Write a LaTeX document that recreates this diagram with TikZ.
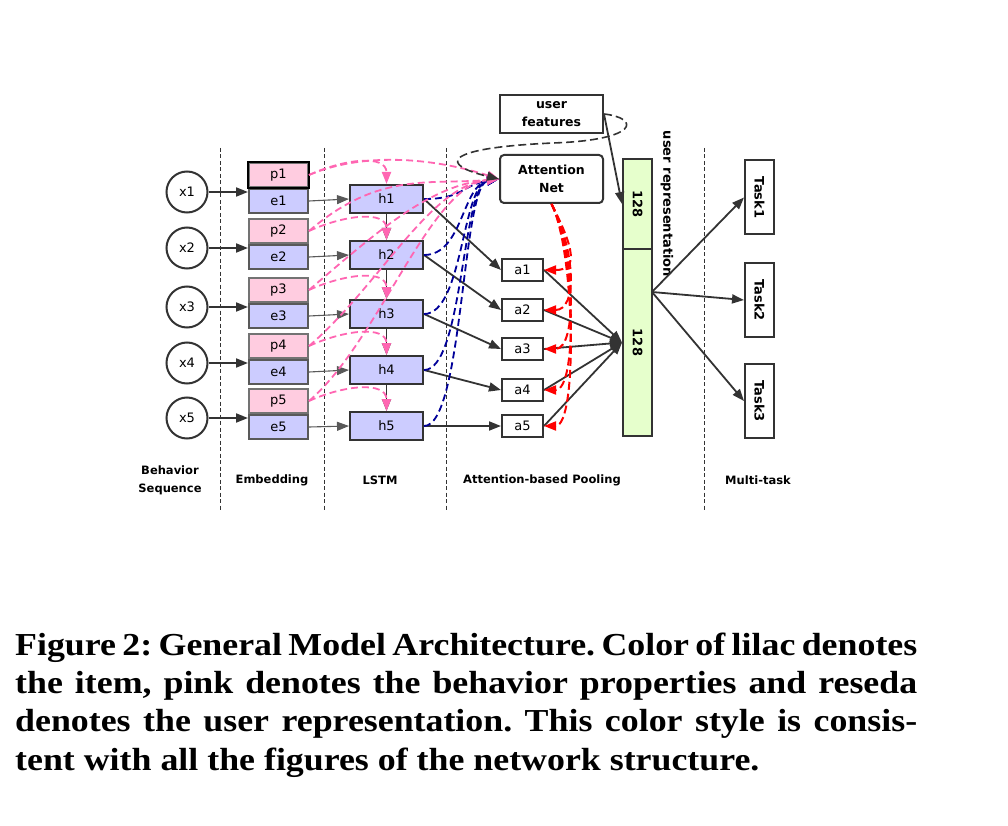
\documentclass[tikz,border=0pt]{standalone}
\usepackage{fontspec}
\setmainfont{Liberation Serif}
\newfontfamily\capfont[FakeStretch=1.12]{Liberation Serif}
\newfontfamily\diagfont{DejaVu Sans}
\usetikzlibrary{arrows.meta,positioning}
\frenchspacing

\definecolor{lilac}{RGB}{204,204,255}
\definecolor{pinkfill}{RGB}{255,204,224}
\definecolor{reseda}{RGB}{230,255,204}
\definecolor{pinkline}{RGB}{255,102,178}
\definecolor{navyline}{RGB}{0,0,153}
\definecolor{dark}{RGB}{51,51,51}

\tikzset{
  tip/.style={-{Triangle[length=12pt,width=9pt]}},
  arrow/.style={tip,draw=dark,line width=1.8pt},
  thinarrow/.style={tip,draw=black!65,line width=1.1pt},
  box/.style={draw=dark,line width=2pt,inner sep=0pt,
    font=\diagfont\fontsize{13}{13}\selectfont},
  circ/.style={box,circle,minimum size=41pt},
  pbox/.style={box,draw=black!55,fill=pinkfill,minimum width=59pt,minimum height=24pt},
  ebox/.style={box,draw=black!65,fill=lilac,minimum width=59pt,minimum height=24pt},
  hbox/.style={box,fill=lilac,minimum width=73pt,minimum height=28pt},
  abox/.style={box,fill=white,minimum width=41pt,minimum height=22pt},
  bigbox/.style={box,fill=white,minimum width=103pt,align=center,
    font=\diagfont\bfseries\fontsize{12.5}{18}\selectfont},
  bar/.style={box,fill=reseda,minimum width=29pt,
    font=\diagfont\bfseries\fontsize{13}{13}\selectfont},
  taskbox/.style={box,fill=white,minimum width=29pt,minimum height=74pt,
    font=\diagfont\bfseries\fontsize{13}{13}\selectfont},
  lab/.style={align=center,font=\diagfont\bfseries\fontsize{11.5}{18}\selectfont},
  sepline/.style={draw=black!80,line width=0.8pt,dash pattern=on 4pt off 2.5pt},
  pinkdash/.style={tip,draw=pinkline,line width=1.8pt,dash pattern=on 7pt off 4pt},
  bluedash/.style={tip,draw=navyline,line width=1.8pt,dash pattern=on 7pt off 4pt},
  reddash/.style={tip,draw=red,line width=2pt,dash pattern=on 8pt off 4pt},
  loopdash/.style={tip,draw=dark,line width=1.6pt,dash pattern=on 8pt off 4pt},
  caption/.style={anchor=base west,inner sep=0pt,font=\capfont\bfseries\fontsize{32}{38}\selectfont}
}

\begin{document}
\begin{tikzpicture}[x=1pt,y=-1pt]
\useasboundingbox (0,0) rectangle (1008,826);

% stage separators
\foreach \sx in {220,324,446,704}
  \draw[sepline] (\sx,148) -- (\sx,510);

% attention and user parts
\node[bigbox,minimum height=38pt] (ufeat) at (551.5,114) {user\\features};
\node[bigbox,rounded corners=4pt,minimum height=48pt] (attn) at (551.5,179) {Attention\\Net};

\node[bar,minimum height=90pt] (upbar) at (637.5,204) {\rotatebox{-90}{128}};
\node[bar,minimum height=187pt] (lowbar) at (637.5,342.5) {\rotatebox{-90}{128}};
\node[lab,rotate=-90,font=\diagfont\bfseries\fontsize{13}{13}\selectfont] (urep) at (667,204) {user representation};

\node[taskbox] (t1) at (759.5,197.5) {\rotatebox{-90}{Task1}};
\node[taskbox] (t2) at (759.5,300) {\rotatebox{-90}{Task2}};
\node[taskbox] (t3) at (759.5,401) {\rotatebox{-90}{Task3}};

% rows of the sequence
\foreach \i/\b/\hy/\ay in {1/187/199/270,2/243/255/310,3/302/314/349,4/358/370/390,5/413/426/426}{
  \node[circ] (x\i) at (187,{\b+5}) {x\i};
  \node[pbox] (p\i) at (278.5,{\b-12}) {p\i};
  \node[ebox,below=0pt of p\i] (e\i) {e\i};
  \node[hbox] (h\i) at (386.5,\hy) {h\i};
  \node[abox] (a\i) at (522.5,\ay) {a\i};
}
\draw[box,draw=black] (p1.south west) rectangle (p1.north east);

\node[lab] (lseq) at (170,480) {Behavior\\Sequence};
\node[lab] (lemb) at (272,480) {Embedding};
\node[lab] (llstm) at (380,480) {LSTM};
\node[lab] (lpool) at (542,480) {Attention-based Pooling};
\node[lab] (ltask) at (758,480) {Multi-task};

% connectors
\foreach \i/\ay in {1/270,2/310,3/349,4/390,5/426}{
  \draw[arrow] (x\i.east) -- (x\i.east -| e\i.west);
  \draw[thinarrow] (e\i.east) -- (h\i.west);
  \draw[arrow] (h\i.east) -- (a\i.west);
  \draw[arrow] (a\i.east) -- (lowbar.west);
  \draw[bluedash] (h\i.east) .. controls +(39,0) and (462,185) .. (attn.west);
  \draw[reddash] (attn.south) .. controls (575,250) and (578,\ay) .. (a\i.east);
}
\foreach \i/\j in {1/2,2/3,3/4,4/5}
  \draw[arrow] (h\i) -- (h\j);

\foreach \i in {1,...,5}
  \draw[pinkdash] (p\i.east) .. controls +(35,-16) and +(0,-30) .. (h\i.north);
\draw[pinkdash] (p1.east) .. controls (368,150) and (440,160) .. (attn.west);
\foreach \i in {2,...,5}
  \draw[pinkdash] (p\i.east) .. controls +(70,-60) and (430,185) .. (attn.west);

\draw[loopdash] (ufeat.east) .. controls (640,118) and (640,140) .. (553,143)
  .. controls (440,148) and (440,165) .. (attn.west);
\draw[arrow] (ufeat.east) -- (upbar.west);

\coordinate (fan) at (652,292);
\draw[arrow] (fan) -- (t1.west);
\draw[arrow] (fan) -- (t2.west);
\draw[arrow] (fan) -- (t3.west);

% caption
\node[caption] (cap1) at (15,655) {\makebox[902pt][s]{Figure 2: General Model Architecture. Color of lilac denotes}};
\node[caption] (cap2) at (15,693) {\makebox[902pt][s]{the item, pink denotes the behavior properties and reseda}};
\node[caption] (cap3) at (15,731.5) {\makebox[902pt][s]{denotes the user representation. This color style is consis-}};
\node[caption] (cap4) at (15,770) {tent with all the figures of the network structure.};

\end{tikzpicture}
\end{document}
